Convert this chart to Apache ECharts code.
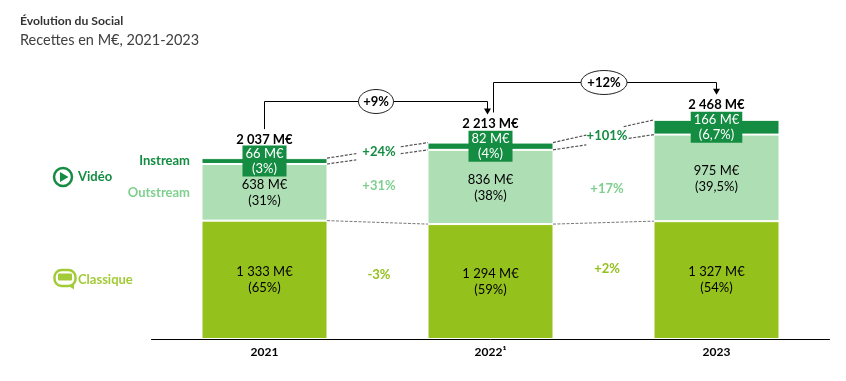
<!DOCTYPE html>
<html><head><meta charset="utf-8">
<style>html,body{margin:0;padding:0;background:#fff}#c{width:846px;height:381px}</style>
<script src="https://cdn.jsdelivr.net/npm/echarts@6/dist/echarts.min.js"></script></head>
<body><div id="c"></div>
<script>
const categories = ['2021', '2022¹', '2023'];
const classique = [1333, 1294, 1327];
const outstream = [638, 836, 975];
const instream = [66, 82, 166];
const totals = [2037, 2213, 2468];
const classiqueShare = ['65%', '59%', '54%'];
const outstreamShare = ['31%', '38%', '39,5%'];
const instreamShare = ['3%', '4%', '6,7%'];
const growthTotal = ['+9%', '+12%'];
const growthInstream = ['+24%', '+101%'];
const growthOutstream = ['+31%', '+17%'];
const growthClassique = ['-3%', '+2%'];

const FONT = 'Lato';
const DARK = '#148c41', LIGHT = '#aedeb3', OLIVE = '#95c11c', MID = '#7fd08f', INK = '#000';
const BAR_W = 125;
const TOTAL_GAP = [11, 12, 8];
const fmt = v => String(v).replace(/\B(?=(\d{3})+$)/g, ' ') + ' M€';
const two = (vals, share) => p => fmt(vals[p.dataIndex]) + '\n(' + share[p.dataIndex] + ')';
const lab = { show: true, position: 'inside', fontFamily: FONT, fontSize: 13, lineHeight: 16, color: INK };
const item = c => ({ color: c, borderColor: '#fff', borderWidth: 1 });

function dashed(x1, y1, x2, y2, w) {
  return { type: 'line', shape: { x1, y1, x2, y2 },
    style: { stroke: '#555', lineWidth: w, lineDash: [3, 1.5], fill: null } };
}
function txt(x, y, text, color, bold) {
  return { type: 'text', x, y, style: { text, fill: color, fontFamily: FONT, fontSize: 13,
    fontWeight: bold ? 'bold' : 'normal', align: 'center', verticalAlign: 'middle' } };
}
function gapItem(params, api) {
  const i = api.value(0), ch = [];
  const level = (k, j) => {
    let v = classique[k];
    if (j > 0) v += outstream[k];
    if (j > 1) v += instream[k];
    return v;
  };
  const xa = api.coord([i, 0])[0] + BAR_W / 2, xb = api.coord([i + 1, 0])[0] - BAR_W / 2;
  const ya = j => api.coord([i, level(i, j)])[1], yb = j => api.coord([i + 1, level(i + 1, j)])[1];
  const breaks = i === 0 ? [[0.29, 0.73], [0.29, 0.73]] : [[0.33, 0.70], [0.33, 0.75]];
  [2, 1].forEach((j, n) => {
    const a = ya(j), b = yb(j), [f, g] = breaks[n];
    ch.push(dashed(xa, a, xa + (xb - xa) * f, a + (b - a) * f, 1.2));
    ch.push(dashed(xa + (xb - xa) * g, a + (b - a) * g, xb, b, 1.2));
  });
  ch.push(dashed(xa, ya(0), xb, yb(0), 0.8));
  const xm = (xa + xb) / 2 + (i === 0 ? 1.5 : 3.5);
  const nudge = i === 0 ? [-2, -4, -6] : [-1, 6, -12];
  ch.push(txt(xm, (ya(2) + ya(1) + yb(2) + yb(1)) / 4 + nudge[0], growthInstream[i], DARK, true));
  ch.push(txt(xm, (ya(1) + ya(0) + yb(1) + yb(0)) / 4 + nudge[1], growthOutstream[i], MID, true));
  ch.push(txt(xm, (ya(0) + api.coord([i, 0])[1] + yb(0) + api.coord([i, 0])[1]) / 4 + nudge[2], growthClassique[i], OLIVE, true));
  return { type: 'group', children: ch };
}
function bracketItem(params, api) {
  const i = api.value(0);
  const xa = Math.floor(api.coord([i, 0])[0]) + (i === 0 ? 0 : 3) + 0.5;
  const xb = Math.floor(api.coord([i + 1, 0])[0]) - (i === 0 ? 3 : 0) + 0.5;
  const ya = api.coord([i, totals[i]])[1] - (i === 0 ? 29 : 30);
  const top = Math.round(api.coord([i, totals[i]])[1] - (i === 0 ? 57 : 60)) + 0.5;
  const tip = api.coord([i + 1, totals[i + 1]])[1] - (i === 0 ? 29 : 26);
  const cx = (xa + xb) / 2 + (i === 0 ? 0 : -1), cy = top;
  const rx = i === 0 ? 17.5 : 23;
  return { type: 'group', children: [
    { type: 'polyline', shape: { points: [[xa, ya], [xa, top], [xb, top], [xb, tip - 4]] },
      style: { stroke: '#000', lineWidth: 1, fill: null } },
    { type: 'polygon', shape: { points: [[xb - 3.5, tip - 5], [xb + 3.5, tip - 5], [xb, tip + 1]] }, style: { fill: '#000' } },
    { type: 'ellipse', shape: { cx, cy, rx, ry: 12 }, style: { fill: '#fff', stroke: '#222', lineWidth: 1 } },
    txt(cx, cy, growthTotal[i], INK, true)
  ] };
}
const g = (o) => Object.assign({ silent: true }, o);
const side = (x, y, text, fill, align) => g({ type: 'text', x, y,
  style: { text, fill, fontFamily: FONT, fontSize: 13, fontWeight: 'bold', align, verticalAlign: 'middle' } });

const chart = echarts.init(document.getElementById('c'), null, { renderer: 'canvas' });
chart.setOption({
  animation: false,
  backgroundColor: '#fff',
  grid: { left: 151.5, right: 16.5, top: 117, bottom: 42, containLabel: false },
  xAxis: { type: 'category', data: categories,
    axisLine: { lineStyle: { color: '#000', width: 1 } }, axisTick: { show: false },
    axisLabel: { fontFamily: FONT, fontSize: 12, fontWeight: 'bold', color: INK, margin: 7 } },
  yAxis: { type: 'value', min: 0, max: 2500, show: false, splitLine: { show: false } },
  series: [
    { name: 'Classique', type: 'bar', stack: 's', barWidth: BAR_W + 1, data: classique, itemStyle: item(OLIVE),
      label: Object.assign({}, lab, { formatter: two(classique, classiqueShare) }) },
    { name: 'Outstream', type: 'bar', stack: 's', barWidth: BAR_W + 1, data: outstream, itemStyle: item(LIGHT),
      label: Object.assign({}, lab, { formatter: two(outstream, outstreamShare), offset: [0, 1] }) },
    { name: 'Instream', type: 'bar', stack: 's', barWidth: BAR_W + 1, data: instream, itemStyle: item(DARK),
      label: Object.assign({}, lab, { color: '#fff', backgroundColor: DARK, lineHeight: 15, padding: [1, 3, 0, 3],
        formatter: two(instream, instreamShare) }) },
    { name: 'Total', type: 'line', symbol: 'circle', symbolSize: 1, showSymbol: true,
      data: totals.map((value, i) => ({ value, label: { distance: TOTAL_GAP[i] } })),
      itemStyle: { color: 'transparent' }, lineStyle: { width: 0, color: 'transparent' },
      label: { show: true, position: 'top', fontFamily: FONT, fontSize: 13, fontWeight: 'bold',
        color: INK, formatter: p => fmt(totals[p.dataIndex]) } },
    { type: 'custom', data: [[0], [1]], renderItem: gapItem, encode: { x: 0 }, silent: true, z: 5, clip: false },
    { type: 'custom', data: [[0], [1]], renderItem: bracketItem, encode: { x: 0 }, silent: true, z: 6, clip: false }
  ],
  graphic: [
    g({ type: 'text', x: 20, y: 21, style: { text: 'Évolution du Social', fill: '#333', fontFamily: FONT, fontSize: 12.2, fontWeight: 'bold', verticalAlign: 'middle' } }),
    g({ type: 'text', x: 20, y: 40, style: { text: 'Recettes en M€, 2021-2023', fill: '#404040', fontFamily: FONT, fontSize: 14.5, verticalAlign: 'middle' } }),
    side(190, 161, 'Instream', DARK, 'right'),
    side(190, 193, 'Outstream', MID, 'right'),
    side(78, 177, 'Vidéo', DARK, 'left'),
    side(78, 280, 'Classique', '#a3cb38', 'left'),
    g({ type: 'circle', shape: { cx: 63, cy: 177, r: 9 }, style: { fill: '#fff', stroke: DARK, lineWidth: 2.5 } }),
    g({ type: 'polygon', shape: { points: [[60, 172], [60, 182], [68.5, 177]] }, style: { fill: DARK } }),
    g({ type: 'polygon', shape: { points: [[67, 285], [74, 284], [74, 289.5]] }, style: { fill: '#a3cb38' } }),
    g({ type: 'rect', shape: { x: 54.5, y: 270, width: 21, height: 16, r: 7 }, style: { fill: '#fff', stroke: '#a3cb38', lineWidth: 2.5 } }),
    g({ type: 'rect', shape: { x: 58, y: 273.5, width: 14, height: 7, r: 1 }, style: { fill: '#a3cb38' } })
  ]
});
</script></body></html>
